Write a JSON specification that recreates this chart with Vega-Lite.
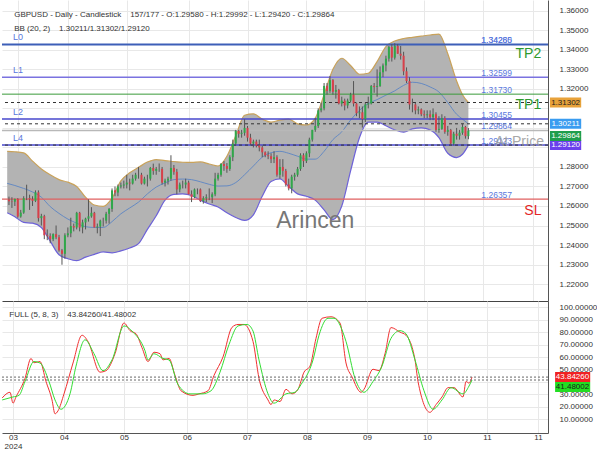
{
"$schema": "https://vega.github.io/schema/vega-lite/v6.json",
"padding": 0,
"autosize": {"type": "pad"},
"background": "#ffffff",
"spacing": 0,
"bounds": "flush",
"config": {
  "view": {"stroke": null},
  "font": "Liberation Sans",
  "axis": {"labelFont": "Liberation Sans", "labelFontSize": 8, "labelColor": "#333333", "ticks": false, "tickSize": 0, "gridColor": "#e8e8e8", "domainColor": "#555555", "labelOverlap": false, "labelFlush": false, "labelBound": false}
},
"datasets": {
"candles": [
{"i":0,"o":1.2633,"h":1.2648,"l":1.2605,"c":1.2624},
{"i":1,"o":1.2624,"h":1.2645,"l":1.2590,"c":1.2622},
{"i":2,"o":1.2622,"h":1.2638,"l":1.2600,"c":1.2636},
{"i":3,"o":1.2636,"h":1.2640,"l":1.2540,"c":1.2546},
{"i":4,"o":1.2546,"h":1.2580,"l":1.2540,"c":1.2566},
{"i":5,"o":1.2566,"h":1.2650,"l":1.2560,"c":1.2640},
{"i":6,"o":1.2640,"h":1.2709,"l":1.2630,"c":1.2640},
{"i":7,"o":1.2640,"h":1.2658,"l":1.2580,"c":1.2635},
{"i":8,"o":1.2635,"h":1.2650,"l":1.2600,"c":1.2626},
{"i":9,"o":1.2626,"h":1.2680,"l":1.2620,"c":1.2670},
{"i":10,"o":1.2670,"h":1.2680,"l":1.2520,"c":1.2538},
{"i":11,"o":1.2538,"h":1.2560,"l":1.2500,"c":1.2548},
{"i":12,"o":1.2548,"h":1.2555,"l":1.2430,"c":1.2450},
{"i":13,"o":1.2450,"h":1.2480,"l":1.2425,"c":1.2446},
{"i":14,"o":1.2446,"h":1.2460,"l":1.2409,"c":1.2430},
{"i":15,"o":1.2430,"h":1.2460,"l":1.2420,"c":1.2456},
{"i":16,"o":1.2456,"h":1.2500,"l":1.2430,"c":1.2440},
{"i":17,"o":1.2440,"h":1.2452,"l":1.2366,"c":1.2373},
{"i":18,"o":1.2373,"h":1.2380,"l":1.2299,"c":1.2355},
{"i":19,"o":1.2355,"h":1.2460,"l":1.2330,"c":1.2450},
{"i":20,"o":1.2450,"h":1.2490,"l":1.2440,"c":1.2460},
{"i":21,"o":1.2460,"h":1.2540,"l":1.2440,"c":1.2497},
{"i":22,"o":1.2497,"h":1.2510,"l":1.2470,"c":1.2490},
{"i":23,"o":1.2490,"h":1.2570,"l":1.2480,"c":1.2565},
{"i":24,"o":1.2565,"h":1.2570,"l":1.2470,"c":1.2490},
{"i":25,"o":1.2490,"h":1.2530,"l":1.2460,"c":1.2516},
{"i":26,"o":1.2516,"h":1.2540,"l":1.2480,"c":1.2535},
{"i":27,"o":1.2535,"h":1.2634,"l":1.2520,"c":1.2547},
{"i":28,"o":1.2547,"h":1.2594,"l":1.2540,"c":1.2565},
{"i":29,"o":1.2565,"h":1.2570,"l":1.2490,"c":1.2490},
{"i":30,"o":1.2490,"h":1.2510,"l":1.2460,"c":1.2495},
{"i":31,"o":1.2495,"h":1.2530,"l":1.2446,"c":1.2525},
{"i":32,"o":1.2525,"h":1.2540,"l":1.2495,"c":1.2525},
{"i":33,"o":1.2525,"h":1.2570,"l":1.2510,"c":1.2560},
{"i":34,"o":1.2560,"h":1.2590,"l":1.2510,"c":1.2585},
{"i":35,"o":1.2585,"h":1.2690,"l":1.2570,"c":1.2680},
{"i":36,"o":1.2680,"h":1.2700,"l":1.2650,"c":1.2669},
{"i":37,"o":1.2669,"h":1.2710,"l":1.2650,"c":1.2700},
{"i":38,"o":1.2700,"h":1.2720,"l":1.2690,"c":1.2705},
{"i":39,"o":1.2705,"h":1.2730,"l":1.2690,"c":1.2710},
{"i":40,"o":1.2710,"h":1.2760,"l":1.2690,"c":1.2720},
{"i":41,"o":1.2720,"h":1.2740,"l":1.2680,"c":1.2715},
{"i":42,"o":1.2715,"h":1.2760,"l":1.2710,"c":1.2740},
{"i":43,"o":1.2740,"h":1.2770,"l":1.2730,"c":1.2760},
{"i":44,"o":1.2760,"h":1.2800,"l":1.2740,"c":1.2760},
{"i":45,"o":1.2760,"h":1.2770,"l":1.2710,"c":1.2715},
{"i":46,"o":1.2715,"h":1.2750,"l":1.2710,"c":1.2740},
{"i":47,"o":1.2740,"h":1.2760,"l":1.2700,"c":1.2740},
{"i":48,"o":1.2740,"h":1.2800,"l":1.2730,"c":1.2795},
{"i":49,"o":1.2795,"h":1.2817,"l":1.2760,"c":1.2780},
{"i":50,"o":1.2780,"h":1.2800,"l":1.2760,"c":1.2790},
{"i":51,"o":1.2790,"h":1.2818,"l":1.2775,"c":1.2790},
{"i":52,"o":1.2790,"h":1.2800,"l":1.2710,"c":1.2720},
{"i":53,"o":1.2720,"h":1.2740,"l":1.2700,"c":1.2730},
{"i":54,"o":1.2730,"h":1.2750,"l":1.2710,"c":1.2740},
{"i":55,"o":1.2740,"h":1.2860,"l":1.2730,"c":1.2795},
{"i":56,"o":1.2795,"h":1.2810,"l":1.2760,"c":1.2775},
{"i":57,"o":1.2775,"h":1.2790,"l":1.2660,"c":1.2685},
{"i":58,"o":1.2685,"h":1.2720,"l":1.2670,"c":1.2710},
{"i":59,"o":1.2710,"h":1.2730,"l":1.2690,"c":1.2710},
{"i":60,"o":1.2710,"h":1.2740,"l":1.2690,"c":1.2720},
{"i":61,"o":1.2720,"h":1.2730,"l":1.2660,"c":1.2660},
{"i":62,"o":1.2660,"h":1.2680,"l":1.2620,"c":1.2645},
{"i":63,"o":1.2645,"h":1.2690,"l":1.2640,"c":1.2685},
{"i":64,"o":1.2685,"h":1.2690,"l":1.2660,"c":1.2685},
{"i":65,"o":1.2685,"h":1.2690,"l":1.2620,"c":1.2625},
{"i":66,"o":1.2625,"h":1.2650,"l":1.2612,"c":1.2640},
{"i":67,"o":1.2640,"h":1.2660,"l":1.2620,"c":1.2645},
{"i":68,"o":1.2645,"h":1.2690,"l":1.2630,"c":1.2645},
{"i":69,"o":1.2645,"h":1.2670,"l":1.2615,"c":1.2660},
{"i":70,"o":1.2660,"h":1.2770,"l":1.2650,"c":1.2740},
{"i":71,"o":1.2740,"h":1.2770,"l":1.2730,"c":1.2760},
{"i":72,"o":1.2760,"h":1.2820,"l":1.2750,"c":1.2815},
{"i":73,"o":1.2815,"h":1.2830,"l":1.2780,"c":1.2805},
{"i":74,"o":1.2805,"h":1.2820,"l":1.2770,"c":1.2790},
{"i":75,"o":1.2790,"h":1.2860,"l":1.2780,"c":1.2850},
{"i":76,"o":1.2850,"h":1.2940,"l":1.2830,"c":1.2920},
{"i":77,"o":1.2920,"h":1.2990,"l":1.2910,"c":1.2985},
{"i":78,"o":1.2985,"h":1.2990,"l":1.2950,"c":1.2970},
{"i":79,"o":1.2970,"h":1.2990,"l":1.2950,"c":1.2975},
{"i":80,"o":1.2975,"h":1.3044,"l":1.2960,"c":1.3000},
{"i":81,"o":1.3000,"h":1.3010,"l":1.2930,"c":1.2950},
{"i":82,"o":1.2950,"h":1.2970,"l":1.2910,"c":1.2920},
{"i":83,"o":1.2920,"h":1.2940,"l":1.2900,"c":1.2930},
{"i":84,"o":1.2930,"h":1.2940,"l":1.2900,"c":1.2910},
{"i":85,"o":1.2910,"h":1.2940,"l":1.2880,"c":1.2900},
{"i":86,"o":1.2900,"h":1.2910,"l":1.2850,"c":1.2875},
{"i":87,"o":1.2875,"h":1.2880,"l":1.2850,"c":1.2860},
{"i":88,"o":1.2860,"h":1.2880,"l":1.2840,"c":1.2855},
{"i":89,"o":1.2855,"h":1.2870,"l":1.2820,"c":1.2840},
{"i":90,"o":1.2840,"h":1.2880,"l":1.2820,"c":1.2850},
{"i":91,"o":1.2850,"h":1.2860,"l":1.2750,"c":1.2760},
{"i":92,"o":1.2760,"h":1.2840,"l":1.2740,"c":1.2800},
{"i":93,"o":1.2800,"h":1.2840,"l":1.2750,"c":1.2780},
{"i":94,"o":1.2780,"h":1.2790,"l":1.2700,"c":1.2710},
{"i":95,"o":1.2710,"h":1.2740,"l":1.2680,"c":1.2690},
{"i":96,"o":1.2690,"h":1.2760,"l":1.2665,"c":1.2750},
{"i":97,"o":1.2750,"h":1.2770,"l":1.2730,"c":1.2760},
{"i":98,"o":1.2760,"h":1.2800,"l":1.2750,"c":1.2790},
{"i":99,"o":1.2790,"h":1.2870,"l":1.2780,"c":1.2860},
{"i":100,"o":1.2860,"h":1.2870,"l":1.2800,"c":1.2830},
{"i":101,"o":1.2830,"h":1.2880,"l":1.2820,"c":1.2870},
{"i":102,"o":1.2870,"h":1.2950,"l":1.2850,"c":1.2940},
{"i":103,"o":1.2940,"h":1.2990,"l":1.2930,"c":1.2990},
{"i":104,"o":1.2990,"h":1.3050,"l":1.2980,"c":1.3010},
{"i":105,"o":1.3010,"h":1.3100,"l":1.3000,"c":1.3090},
{"i":106,"o":1.3090,"h":1.3130,"l":1.3080,"c":1.3100},
{"i":107,"o":1.3100,"h":1.3230,"l":1.3090,"c":1.3215},
{"i":108,"o":1.3215,"h":1.3230,"l":1.3170,"c":1.3190},
{"i":109,"o":1.3190,"h":1.3266,"l":1.3180,"c":1.3245},
{"i":110,"o":1.3245,"h":1.3250,"l":1.3170,"c":1.3185},
{"i":111,"o":1.3185,"h":1.3220,"l":1.3150,"c":1.3195},
{"i":112,"o":1.3195,"h":1.3200,"l":1.3120,"c":1.3125},
{"i":113,"o":1.3125,"h":1.3160,"l":1.3110,"c":1.3140},
{"i":114,"o":1.3140,"h":1.3150,"l":1.3090,"c":1.3115},
{"i":115,"o":1.3115,"h":1.3150,"l":1.3100,"c":1.3140},
{"i":116,"o":1.3140,"h":1.3180,"l":1.3130,"c":1.3170},
{"i":117,"o":1.3170,"h":1.3240,"l":1.3110,"c":1.3125},
{"i":118,"o":1.3125,"h":1.3130,"l":1.3060,"c":1.3075},
{"i":119,"o":1.3075,"h":1.3110,"l":1.3050,"c":1.3080},
{"i":120,"o":1.3080,"h":1.3110,"l":1.3002,"c":1.3045},
{"i":121,"o":1.3045,"h":1.3130,"l":1.3030,"c":1.3120},
{"i":122,"o":1.3120,"h":1.3160,"l":1.3100,"c":1.3125},
{"i":123,"o":1.3125,"h":1.3220,"l":1.3120,"c":1.3215},
{"i":124,"o":1.3215,"h":1.3230,"l":1.3180,"c":1.3210},
{"i":125,"o":1.3210,"h":1.3300,"l":1.3160,"c":1.3215},
{"i":126,"o":1.3215,"h":1.3315,"l":1.3210,"c":1.3285},
{"i":127,"o":1.3285,"h":1.3330,"l":1.3260,"c":1.3320},
{"i":128,"o":1.3320,"h":1.3370,"l":1.3290,"c":1.3355},
{"i":129,"o":1.3355,"h":1.3420,"l":1.3340,"c":1.3415},
{"i":130,"o":1.3415,"h":1.3430,"l":1.3340,"c":1.3360},
{"i":131,"o":1.3360,"h":1.3434,"l":1.3350,"c":1.3420},
{"i":132,"o":1.3420,"h":1.3430,"l":1.3380,"c":1.3380},
{"i":133,"o":1.3380,"h":1.3420,"l":1.3350,"c":1.3370},
{"i":134,"o":1.3370,"h":1.3390,"l":1.3270,"c":1.3290},
{"i":135,"o":1.3290,"h":1.3310,"l":1.3230,"c":1.3240},
{"i":136,"o":1.3240,"h":1.3260,"l":1.3094,"c":1.3120},
{"i":137,"o":1.3120,"h":1.3150,"l":1.3080,"c":1.3120},
{"i":138,"o":1.3120,"h":1.3130,"l":1.3070,"c":1.3090},
{"i":139,"o":1.3090,"h":1.3110,"l":1.3070,"c":1.3095},
{"i":140,"o":1.3095,"h":1.3100,"l":1.3060,"c":1.3070},
{"i":141,"o":1.3070,"h":1.3090,"l":1.3050,"c":1.3065},
{"i":142,"o":1.3065,"h":1.3090,"l":1.3050,"c":1.3070},
{"i":143,"o":1.3070,"h":1.3090,"l":1.3040,"c":1.3055},
{"i":144,"o":1.3055,"h":1.3100,"l":1.3040,"c":1.3070},
{"i":145,"o":1.3070,"h":1.3080,"l":1.2980,"c":1.2990},
{"i":146,"o":1.2990,"h":1.3060,"l":1.2975,"c":1.2995},
{"i":147,"o":1.2995,"h":1.3070,"l":1.2990,"c":1.3050},
{"i":148,"o":1.3050,"h":1.3060,"l":1.2970,"c":1.2980},
{"i":149,"o":1.2980,"h":1.3010,"l":1.2960,"c":1.2990},
{"i":150,"o":1.2990,"h":1.2995,"l":1.2908,"c":1.2920},
{"i":151,"o":1.2920,"h":1.2980,"l":1.2910,"c":1.2970},
{"i":152,"o":1.2970,"h":1.3000,"l":1.2940,"c":1.2960},
{"i":153,"o":1.2960,"h":1.2990,"l":1.2940,"c":1.2975},
{"i":154,"o":1.2975,"h":1.3025,"l":1.2965,"c":1.3005},
{"i":155,"o":1.3005,"h":1.3010,"l":1.2945,"c":1.2958},
{"i":156,"o":1.29580,"h":1.29992,"l":1.29420,"c":1.29864}
],
"bands": [
{"i":-0.6,"up":1.2880,"mid":1.2716,"lo":1.2565},
{"i":2,"up":1.2878,"mid":1.2705,"lo":1.2545},
{"i":5,"up":1.2872,"mid":1.2690,"lo":1.2516},
{"i":8,"up":1.2830,"mid":1.2672,"lo":1.2512},
{"i":11,"up":1.2790,"mid":1.2645,"lo":1.2490},
{"i":14,"up":1.2760,"mid":1.2597,"lo":1.2420},
{"i":17,"up":1.2735,"mid":1.2562,"lo":1.2350},
{"i":20,"up":1.2722,"mid":1.2533,"lo":1.2330},
{"i":23,"up":1.2700,"mid":1.2512,"lo":1.2320},
{"i":26,"up":1.2645,"mid":1.2494,"lo":1.2338},
{"i":29,"up":1.2605,"mid":1.2490,"lo":1.2352},
{"i":32,"up":1.2598,"mid":1.2490,"lo":1.2365},
{"i":35,"up":1.2640,"mid":1.2520,"lo":1.2360},
{"i":38,"up":1.2729,"mid":1.2560,"lo":1.2370},
{"i":41,"up":1.2770,"mid":1.2590,"lo":1.2385},
{"i":44,"up":1.2798,"mid":1.2620,"lo":1.2407},
{"i":47,"up":1.2825,"mid":1.2662,"lo":1.2480},
{"i":50,"up":1.2838,"mid":1.2697,"lo":1.2550},
{"i":53,"up":1.2832,"mid":1.2718,"lo":1.2630},
{"i":56,"up":1.2828,"mid":1.2735,"lo":1.2660},
{"i":59,"up":1.2824,"mid":1.2738,"lo":1.2662},
{"i":62,"up":1.2823,"mid":1.2735,"lo":1.2654},
{"i":65,"up":1.2826,"mid":1.2724,"lo":1.2630},
{"i":68,"up":1.2815,"mid":1.2711,"lo":1.2610},
{"i":71,"up":1.2805,"mid":1.2702,"lo":1.2595},
{"i":74,"up":1.2855,"mid":1.2703,"lo":1.2565},
{"i":77,"up":1.2960,"mid":1.2720,"lo":1.2541},
{"i":80,"up":1.3065,"mid":1.2760,"lo":1.2526},
{"i":83,"up":1.3072,"mid":1.2805,"lo":1.2555},
{"i":86,"up":1.3045,"mid":1.2850,"lo":1.2650},
{"i":89,"up":1.3030,"mid":1.2873,"lo":1.2726},
{"i":92,"up":1.3040,"mid":1.2880,"lo":1.2739},
{"i":95,"up":1.3045,"mid":1.2870,"lo":1.2700},
{"i":98,"up":1.3021,"mid":1.2855,"lo":1.2662},
{"i":101,"up":1.3015,"mid":1.2840,"lo":1.2650},
{"i":104,"up":1.3050,"mid":1.2840,"lo":1.2630},
{"i":107,"up":1.3170,"mid":1.2880,"lo":1.2580},
{"i":110,"up":1.3300,"mid":1.2940,"lo":1.2530},
{"i":113,"up":1.3357,"mid":1.2980,"lo":1.2600},
{"i":116,"up":1.3320,"mid":1.3040,"lo":1.2780},
{"i":119,"up":1.3275,"mid":1.3090,"lo":1.2950},
{"i":122,"up":1.3280,"mid":1.3125,"lo":1.3030},
{"i":125,"up":1.3340,"mid":1.3145,"lo":1.3030},
{"i":128,"up":1.3417,"mid":1.3168,"lo":1.3011},
{"i":131,"up":1.3445,"mid":1.3190,"lo":1.2990},
{"i":134,"up":1.3458,"mid":1.3218,"lo":1.2978},
{"i":137,"up":1.3464,"mid":1.3234,"lo":1.2995},
{"i":140,"up":1.3470,"mid":1.3228,"lo":1.3000},
{"i":143,"up":1.3476,"mid":1.3210,"lo":1.2990},
{"i":146,"up":1.3481,"mid":1.3184,"lo":1.2950},
{"i":149,"up":1.3380,"mid":1.3130,"lo":1.2870},
{"i":152,"up":1.3240,"mid":1.3070,"lo":1.2848},
{"i":154,"up":1.3170,"mid":1.3045,"lo":1.2865},
{"i":156,"up":1.31302,"mid":1.30211,"lo":1.29120}
],
"levels": [
{"name":"L0","v":1.34285},
{"name":"TP2","v":1.34260},
{"name":"L1","v":1.32599},
{"name":"G","v":1.31730},
{"name":"TP1","v":1.31302},
{"name":"L2","v":1.30455},
{"name":"BBmid","v":1.30211},
{"name":"Price","v":1.29864},
{"name":"L4","v":1.29123},
{"name":"BBlow","v":1.29120},
{"name":"SL","v":1.26357}
],
"stoch": [
{"i":-0.6,"s":"K","v":27},{"i":2,"s":"K","v":31.6},{"i":3,"s":"K","v":22.8},{"i":4,"s":"K","v":27.8},{"i":7,"s":"K","v":42.8},{"i":9,"s":"K","v":58.9},{"i":10,"s":"K","v":55.4},{"i":12,"s":"K","v":56.4},{"i":14,"s":"K","v":40.3},{"i":16,"s":"K","v":25.4},{"i":17,"s":"K","v":14.2},{"i":18,"s":"K","v":16.6},{"i":20,"s":"K","v":30.3},{"i":23,"s":"K","v":55.2},{"i":26,"s":"K","v":77.6},{"i":28,"s":"K","v":72.6},{"i":32,"s":"K","v":47.8},{"i":34,"s":"K","v":49},{"i":37,"s":"K","v":62.7},{"i":40,"s":"K","v":87.5},{"i":42,"s":"K","v":81.3},{"i":44,"s":"K","v":78.8},{"i":46,"s":"K","v":67.6},{"i":48,"s":"K","v":56.4},{"i":50,"s":"K","v":63.9},{"i":52,"s":"K","v":62.7},{"i":53,"s":"K","v":57.7},{"i":55,"s":"K","v":58.9},{"i":57,"s":"K","v":45.2},{"i":59,"s":"K","v":32.8},{"i":63,"s":"K","v":29.1},{"i":65,"s":"K","v":30.3},{"i":68,"s":"K","v":32.8},{"i":70,"s":"K","v":45.2},{"i":73,"s":"K","v":60.1},{"i":76,"s":"K","v":84},{"i":78,"s":"K","v":86.3},{"i":80,"s":"K","v":86.3},{"i":83,"s":"K","v":72.6},{"i":85,"s":"K","v":42.8},{"i":88,"s":"K","v":25.4},{"i":89,"s":"K","v":21.6},{"i":90,"s":"K","v":25.4},{"i":92,"s":"K","v":24.1},{"i":94,"s":"K","v":34},{"i":96,"s":"K","v":30.3},{"i":98,"s":"K","v":34},{"i":100,"s":"K","v":47.8},{"i":102,"s":"K","v":52.7},{"i":104,"s":"K","v":75.1},{"i":106,"s":"K","v":91.3},{"i":109,"s":"K","v":92.5},{"i":112,"s":"K","v":87.5},{"i":114,"s":"K","v":55.2},{"i":116,"s":"K","v":44},{"i":119,"s":"K","v":31.6},{"i":120,"s":"K","v":34},{"i":123,"s":"K","v":50.2},{"i":125,"s":"K","v":49},{"i":127,"s":"K","v":62.7},{"i":129,"s":"K","v":83.8},{"i":132,"s":"K","v":80.1},{"i":134,"s":"K","v":77.6},{"i":137,"s":"K","v":57.7},{"i":138,"s":"K","v":40.3},{"i":142,"s":"K","v":15.4},{"i":144,"s":"K","v":21.6},{"i":146,"s":"K","v":27.8},{"i":148,"s":"K","v":35.3},{"i":150,"s":"K","v":35.3},{"i":153,"s":"K","v":27.8},{"i":154,"s":"K","v":40.3},{"i":155,"s":"K","v":39},{"i":156,"s":"K","v":43.8426},
{"i":-0.6,"s":"D","v":25.4},{"i":3,"s":"D","v":27.8},{"i":5,"s":"D","v":29.1},{"i":7,"s":"D","v":40.3},{"i":10,"s":"D","v":56.4},{"i":12,"s":"D","v":55.2},{"i":15,"s":"D","v":40.3},{"i":17,"s":"D","v":25.4},{"i":19,"s":"D","v":17.9},{"i":22,"s":"D","v":30.3},{"i":24,"s":"D","v":52.7},{"i":27,"s":"D","v":73.9},{"i":30,"s":"D","v":62.7},{"i":33,"s":"D","v":49},{"i":36,"s":"D","v":57.7},{"i":40,"s":"D","v":85.1},{"i":43,"s":"D","v":80.1},{"i":47,"s":"D","v":65.1},{"i":48,"s":"D","v":57.7},{"i":50,"s":"D","v":62.7},{"i":53,"s":"D","v":58.9},{"i":55,"s":"D","v":57.7},{"i":58,"s":"D","v":37.8},{"i":62,"s":"D","v":30.3},{"i":66,"s":"D","v":30.3},{"i":69,"s":"D","v":32.8},{"i":72,"s":"D","v":47.8},{"i":75,"s":"D","v":70.1},{"i":78,"s":"D","v":85.1},{"i":81,"s":"D","v":86.3},{"i":83,"s":"D","v":81},{"i":85,"s":"D","v":57.7},{"i":88,"s":"D","v":30.3},{"i":90,"s":"D","v":22.8},{"i":94,"s":"D","v":30.3},{"i":97,"s":"D","v":31.6},{"i":99,"s":"D","v":37.8},{"i":103,"s":"D","v":57.7},{"i":105,"s":"D","v":77.6},{"i":108,"s":"D","v":91.3},{"i":110,"s":"D","v":91.3},{"i":114,"s":"D","v":72.6},{"i":117,"s":"D","v":42.8},{"i":120,"s":"D","v":31.6},{"i":123,"s":"D","v":40.3},{"i":126,"s":"D","v":52.7},{"i":129,"s":"D","v":75.1},{"i":132,"s":"D","v":81.3},{"i":134,"s":"D","v":78.8},{"i":137,"s":"D","v":57.7},{"i":140,"s":"D","v":32.8},{"i":143,"s":"D","v":17.9},{"i":146,"s":"D","v":25.4},{"i":149,"s":"D","v":35.3},{"i":153,"s":"D","v":30.3},{"i":155,"s":"D","v":36.6},{"i":156,"s":"D","v":41.48002}
],
"stochNow": [{"s":"K","v":43.8426},{"s":"D","v":41.48002}]
},
"vconcat": [
{
"width": 546,
"height": 301,
"resolve": {"axis": {"x": "independent", "y": "independent"}},
"layer": [
{"data": {"name": "bands"},
 "mark": {"type": "area", "color": "#b3b3b3", "interpolate": "monotone"},
 "encoding": {
  "x": {"field": "i", "type": "quantitative", "scale": {"domain": [-0.667, 181.333], "nice": false, "zero": false}, "axis": {"orient": "bottom", "values": [3,20,40,61,81,101,121,141,161,178], "labels": false, "grid": true, "domain": true, "domainColor": "#444444", "title": null}},
  "y": {"field": "up", "type": "quantitative", "scale": {"domain": [1.21389, 1.36297], "nice": false, "zero": false}, "axis": {"orient": "right", "values": [1.22,1.23,1.24,1.25,1.26,1.27,1.28,1.29,1.3,1.31,1.32,1.33,1.34,1.35,1.36], "format": ".5f", "labelExpr": "(datum.value > 1.285 && datum.value < 1.315) ? '' : datum.label", "grid": true, "domain": true, "labelPadding": 11, "title": null}},
  "y2": {"field": "lo"}
 }},
{"data": {"name": "bands"},
 "mark": {"type": "line", "color": "#c9a25a", "strokeWidth": 1.2, "interpolate": "monotone"},
 "encoding": {
  "x": {"field": "i", "type": "quantitative", "scale": {"domain": [-0.667, 181.333], "nice": false, "zero": false}, "axis": null},
  "y": {"field": "up", "type": "quantitative", "scale": {"domain": [1.21389, 1.36297], "nice": false, "zero": false}, "axis": null}
 }},
{"data": {"name": "bands"},
 "mark": {"type": "line", "color": "#6d62d8", "strokeWidth": 1.2, "interpolate": "monotone"},
 "encoding": {
  "x": {"field": "i", "type": "quantitative", "scale": {"domain": [-0.667, 181.333], "nice": false, "zero": false}, "axis": null},
  "y": {"field": "lo", "type": "quantitative", "scale": {"domain": [1.21389, 1.36297], "nice": false, "zero": false}, "axis": null}
 }},
{"data": {"name": "bands"},
 "mark": {"type": "line", "color": "#5b84c4", "strokeWidth": 0.9, "interpolate": "monotone"},
 "encoding": {
  "x": {"field": "i", "type": "quantitative", "scale": {"domain": [-0.667, 181.333], "nice": false, "zero": false}, "axis": null},
  "y": {"field": "mid", "type": "quantitative", "scale": {"domain": [1.21389, 1.36297], "nice": false, "zero": false}, "axis": null}
 }},
{"data": {"name": "levels"}, "transform": [{"filter": {"field": "name", "oneOf": ["L0","TP2"]}}],
 "mark": {"type": "rule", "color": "#3d5fb8", "strokeWidth": 1.5},
 "encoding": {"y": {"field": "v", "type": "quantitative", "scale": {"domain": [1.21389, 1.36297], "nice": false, "zero": false}, "axis": null}}},
{"data": {"name": "levels"}, "transform": [{"filter": {"field": "name", "oneOf": ["L1"]}}],
 "mark": {"type": "rule", "color": "#7a72e0", "strokeWidth": 1.5},
 "encoding": {"y": {"field": "v", "type": "quantitative", "scale": {"domain": [1.21389, 1.36297], "nice": false, "zero": false}, "axis": null}}},
{"data": {"name": "levels"}, "transform": [{"filter": {"field": "name", "oneOf": ["G"]}}],
 "mark": {"type": "rule", "color": "#3a9a3a", "strokeWidth": 1},
 "encoding": {"y": {"field": "v", "type": "quantitative", "scale": {"domain": [1.21389, 1.36297], "nice": false, "zero": false}, "axis": null}}},
{"data": {"name": "levels"}, "transform": [{"filter": {"field": "name", "oneOf": ["Price"]}}],
 "mark": {"type": "rule", "color": "#b8b8b8", "strokeWidth": 1.5},
 "encoding": {"y": {"field": "v", "type": "quantitative", "scale": {"domain": [1.21389, 1.36297], "nice": false, "zero": false}, "axis": null}}},
{"data": {"name": "levels"}, "transform": [{"filter": {"field": "name", "oneOf": ["L2","L4"]}}],
 "mark": {"type": "rule", "color": "#4747cc", "strokeWidth": 1.5},
 "encoding": {"y": {"field": "v", "type": "quantitative", "scale": {"domain": [1.21389, 1.36297], "nice": false, "zero": false}, "axis": null}}},
{"data": {"name": "levels"}, "transform": [{"filter": {"field": "name", "oneOf": ["TP1","BBmid","BBlow"]}}],
 "mark": {"type": "rule", "color": "#333333", "strokeWidth": 1, "strokeDash": [3,3]},
 "encoding": {"y": {"field": "v", "type": "quantitative", "scale": {"domain": [1.21389, 1.36297], "nice": false, "zero": false}, "axis": null}}},
{"data": {"name": "levels"}, "transform": [{"filter": {"field": "name", "oneOf": ["SL"]}}],
 "mark": {"type": "rule", "color": "#e06060", "strokeWidth": 1.2},
 "encoding": {"y": {"field": "v", "type": "quantitative", "scale": {"domain": [1.21389, 1.36297], "nice": false, "zero": false}, "axis": null}}},
{"data": {"name": "candles"},
 "mark": {"type": "rule", "color": "#555555", "strokeWidth": 1},
 "encoding": {
  "x": {"field": "i", "type": "quantitative", "scale": {"domain": [-0.667, 181.333], "nice": false, "zero": false}, "axis": null},
  "y": {"field": "l", "type": "quantitative", "scale": {"domain": [1.21389, 1.36297], "nice": false, "zero": false}, "axis": null},
  "y2": {"field": "h"}
 }},
{"data": {"name": "candles"},
 "mark": {"type": "bar", "width": 2},
 "encoding": {
  "x": {"field": "i", "type": "quantitative", "scale": {"domain": [-0.667, 181.333], "nice": false, "zero": false}, "axis": null},
  "y": {"field": "o", "type": "quantitative", "scale": {"domain": [1.21389, 1.36297], "nice": false, "zero": false}, "axis": null},
  "y2": {"field": "c"},
  "color": {"condition": {"test": "datum.c >= datum.o", "value": "#2fa84a"}, "value": "#d8404a"}
 }},
{"data": {"name": "levels"}, "transform": [{"filter": {"field": "name", "oneOf": ["L0","L1","L2","L4"]}}],
 "mark": {"type": "text", "align": "left", "baseline": "middle", "dy": -7, "fontSize": 9, "color": "#5a78dd"},
 "encoding": {
  "x": {"datum": 1.33, "type": "quantitative", "scale": {"domain": [-0.667, 181.333], "nice": false, "zero": false}, "axis": null},
  "y": {"field": "v", "type": "quantitative", "scale": {"domain": [1.21389, 1.36297], "nice": false, "zero": false}, "axis": null},
  "text": {"field": "name"}
 }},
{"data": {"name": "levels"}, "transform": [{"filter": {"field": "name", "oneOf": ["L0","TP2","L1","G","L2","Price","L4","SL"]}}],
 "mark": {"type": "text", "align": "left", "baseline": "middle", "dy": -4.5, "fontSize": 8.5, "color": "#5a78dd"},
 "encoding": {
  "x": {"datum": 160.4, "type": "quantitative", "scale": {"domain": [-0.667, 181.333], "nice": false, "zero": false}, "axis": null},
  "y": {"field": "v", "type": "quantitative", "scale": {"domain": [1.21389, 1.36297], "nice": false, "zero": false}, "axis": null},
  "text": {"field": "v", "type": "quantitative", "format": ".5f"}
 }},
{"data": {"name": "levels"}, "transform": [{"filter": {"field": "name", "oneOf": ["TP2"]}}],
 "mark": {"type": "text", "align": "left", "baseline": "middle", "dy": 9, "fontSize": 14, "color": "#2e9a2e"},
 "encoding": {
  "x": {"datum": 172, "type": "quantitative", "scale": {"domain": [-0.667, 181.333], "nice": false, "zero": false}, "axis": null},
  "y": {"field": "v", "type": "quantitative", "scale": {"domain": [1.21389, 1.36297], "nice": false, "zero": false}, "axis": null},
  "text": {"field": "name"}
 }},
{"data": {"name": "levels"}, "transform": [{"filter": {"field": "name", "oneOf": ["TP1"]}}],
 "mark": {"type": "text", "align": "left", "baseline": "middle", "dy": 2, "fontSize": 14, "color": "#2e9a2e"},
 "encoding": {
  "x": {"datum": 172, "type": "quantitative", "scale": {"domain": [-0.667, 181.333], "nice": false, "zero": false}, "axis": null},
  "y": {"field": "v", "type": "quantitative", "scale": {"domain": [1.21389, 1.36297], "nice": false, "zero": false}, "axis": null},
  "text": {"field": "name"}
 }},
{"data": {"name": "levels"}, "transform": [{"filter": {"field": "name", "oneOf": ["SL"]}}],
 "mark": {"type": "text", "align": "left", "baseline": "middle", "dy": 12, "fontSize": 14, "color": "#e32626"},
 "encoding": {
  "x": {"datum": 175, "type": "quantitative", "scale": {"domain": [-0.667, 181.333], "nice": false, "zero": false}, "axis": null},
  "y": {"field": "v", "type": "quantitative", "scale": {"domain": [1.21389, 1.36297], "nice": false, "zero": false}, "axis": null},
  "text": {"field": "name"}
 }},
{"data": {"values": [{}]},
 "mark": {"type": "text", "align": "left", "baseline": "middle", "fontSize": 14, "color": "#999999", "opacity": 0.85},
 "encoding": {
  "x": {"datum": 165, "type": "quantitative", "scale": {"domain": [-0.667, 181.333], "nice": false, "zero": false}, "axis": null},
  "y": {"datum": 1.2930, "type": "quantitative", "scale": {"domain": [1.21389, 1.36297], "nice": false, "zero": false}, "axis": null},
  "text": {"value": "At Price"}
 }},
{"data": {"values": [{}]},
 "mark": {"type": "text", "align": "center", "baseline": "middle", "fontSize": 23, "color": "#777777"},
 "encoding": {
  "x": {"datum": 104, "type": "quantitative", "scale": {"domain": [-0.667, 181.333], "nice": false, "zero": false}, "axis": null},
  "y": {"datum": 1.2521, "type": "quantitative", "scale": {"domain": [1.21389, 1.36297], "nice": false, "zero": false}, "axis": null},
  "text": {"value": "Arincen"}
 }},
{"data": {"values": [{}]},
 "mark": {"type": "text", "align": "left", "baseline": "middle", "fontSize": 8, "color": "#333333"},
 "encoding": {
  "x": {"datum": 1.77, "type": "quantitative", "scale": {"domain": [-0.667, 181.333], "nice": false, "zero": false}, "axis": null},
  "y": {"datum": 1.35767, "type": "quantitative", "scale": {"domain": [1.21389, 1.36297], "nice": false, "zero": false}, "axis": null},
  "text": {"value": "GBPUSD - Daily - Candlestick\u00a0\u00a0\u00a0\u00a0157/177 - O:1.29580 - H:1.29992 - L:1.29420 - C:1.29864"}
 }},
{"data": {"values": [{}]},
 "mark": {"type": "text", "align": "left", "baseline": "middle", "fontSize": 8, "color": "#333333"},
 "encoding": {
  "x": {"datum": 1.77, "type": "quantitative", "scale": {"domain": [-0.667, 181.333], "nice": false, "zero": false}, "axis": null},
  "y": {"datum": 1.35059, "type": "quantitative", "scale": {"domain": [1.21389, 1.36297], "nice": false, "zero": false}, "axis": null},
  "text": {"value": "BB (20, 2)\u00a0\u00a0\u00a0\u00a01.30211/1.31302/1.29120"}
 }},
{"data": {"name": "levels"}, "transform": [{"filter": {"field": "name", "oneOf": ["TP1","BBmid","BBlow"]}}],
 "mark": {"type": "bar", "height": 10},
 "encoding": {
  "x": {"datum": 183.7, "type": "quantitative", "scale": {"domain": [-0.667, 181.333], "nice": false, "zero": false}, "axis": null},
  "x2": {"datum": 194.3},
  "y": {"field": "v", "type": "quantitative", "scale": {"domain": [1.21389, 1.36297], "nice": false, "zero": false}, "axis": null},
  "color": {"field": "name", "type": "nominal", "scale": {"domain": ["TP1","BBmid","BBlow"], "range": ["#e8a23a","#3a9cf0","#6a40ec"]}, "legend": null}
 }},
{"data": {"name": "levels"}, "transform": [{"filter": {"field": "name", "oneOf": ["TP1","BBmid","BBlow"]}}],
 "mark": {"type": "text", "align": "center", "baseline": "middle", "fontSize": 8},
 "encoding": {
  "x": {"datum": 189, "type": "quantitative", "scale": {"domain": [-0.667, 181.333], "nice": false, "zero": false}, "axis": null},
  "y": {"field": "v", "type": "quantitative", "scale": {"domain": [1.21389, 1.36297], "nice": false, "zero": false}, "axis": null},
  "text": {"field": "v", "type": "quantitative", "format": ".5f"},
  "color": {"condition": {"test": "datum.name == 'TP1'", "value": "#222222"}, "value": "#ffffff"}
 }},
{"data": {"name": "levels"}, "transform": [{"filter": {"field": "name", "oneOf": ["Price"]}}],
 "mark": {"type": "bar", "height": 10, "yOffset": 5.5, "color": "#1f9e4c"},
 "encoding": {
  "x": {"datum": 183.7, "type": "quantitative", "scale": {"domain": [-0.667, 181.333], "nice": false, "zero": false}, "axis": null},
  "x2": {"datum": 194.3},
  "y": {"field": "v", "type": "quantitative", "scale": {"domain": [1.21389, 1.36297], "nice": false, "zero": false}, "axis": null}
 }},
{"data": {"name": "levels"}, "transform": [{"filter": {"field": "name", "oneOf": ["Price"]}}],
 "mark": {"type": "text", "align": "center", "baseline": "middle", "fontSize": 8, "dy": 5.5, "color": "#ffffff"},
 "encoding": {
  "x": {"datum": 189, "type": "quantitative", "scale": {"domain": [-0.667, 181.333], "nice": false, "zero": false}, "axis": null},
  "y": {"field": "v", "type": "quantitative", "scale": {"domain": [1.21389, 1.36297], "nice": false, "zero": false}, "axis": null},
  "text": {"field": "v", "type": "quantitative", "format": ".5f"}
 }}
]
},
{
"width": 546,
"height": 132,
"resolve": {"axis": {"x": "independent", "y": "independent"}},
"layer": [
{"data": {"name": "stoch"}, "transform": [{"filter": "datum.s == 'K'"}],
 "mark": {"type": "line", "color": "#f03030", "strokeWidth": 1, "interpolate": "monotone"},
 "encoding": {
  "x": {"field": "i", "type": "quantitative", "scale": {"domain": [-0.667, 181.333], "nice": false, "zero": false}, "axis": {"orient": "bottom", "values": [3,20,40,61,81,101,121,141,161,178], "labelExpr": "datum.value == 3 ? ['03', '2024'] : datum.value == 20 ? '04' : datum.value == 40 ? '05' : datum.value == 61 ? '06' : datum.value == 81 ? '07' : datum.value == 101 ? '08' : datum.value == 121 ? '09' : datum.value == 141 ? '10' : '11'", "grid": true, "domain": true, "labelPadding": 0, "labelLineHeight": 9, "title": null}},
  "y": {"field": "v", "type": "quantitative", "scale": {"domain": [2.76, 101.2], "nice": false, "zero": false}, "axis": {"orient": "right", "values": [10,20,30,40,50,60,70,80,90,100], "format": ".5f", "labelExpr": "datum.value == 40 ? '' : datum.label", "grid": true, "domain": true, "labelPadding": 11, "title": null}}
 }},
{"data": {"name": "stoch"}, "transform": [{"filter": "datum.s == 'D'"}],
 "mark": {"type": "line", "color": "#33dd33", "strokeWidth": 1, "interpolate": "monotone"},
 "encoding": {
  "x": {"field": "i", "type": "quantitative", "scale": {"domain": [-0.667, 181.333], "nice": false, "zero": false}, "axis": null},
  "y": {"field": "v", "type": "quantitative", "scale": {"domain": [2.76, 101.2], "nice": false, "zero": false}, "axis": null}
 }},
{"data": {"name": "stochNow"},
 "mark": {"type": "rule", "color": "#666666", "strokeWidth": 1, "strokeDash": [2,2]},
 "encoding": {"y": {"field": "v", "type": "quantitative", "scale": {"domain": [2.76, 101.2], "nice": false, "zero": false}, "axis": null}}},
{"data": {"name": "stochNow"}, "transform": [{"filter": "datum.s == 'K'"}],
 "mark": {"type": "bar", "height": 10, "color": "#f02222"},
 "encoding": {
  "x": {"datum": 183.7, "type": "quantitative", "scale": {"domain": [-0.667, 181.333], "nice": false, "zero": false}, "axis": null},
  "x2": {"datum": 195.4},
  "y": {"field": "v", "type": "quantitative", "scale": {"domain": [2.76, 101.2], "nice": false, "zero": false}, "axis": null}
 }},
{"data": {"name": "stochNow"}, "transform": [{"filter": "datum.s == 'K'"}],
 "mark": {"type": "text", "align": "center", "baseline": "middle", "fontSize": 8, "color": "#ffffff"},
 "encoding": {
  "x": {"datum": 189.5, "type": "quantitative", "scale": {"domain": [-0.667, 181.333], "nice": false, "zero": false}, "axis": null},
  "y": {"field": "v", "type": "quantitative", "scale": {"domain": [2.76, 101.2], "nice": false, "zero": false}, "axis": null},
  "text": {"field": "v", "type": "quantitative", "format": ".5f"}
 }},
{"data": {"name": "stochNow"}, "transform": [{"filter": "datum.s == 'D'"}],
 "mark": {"type": "bar", "height": 10, "yOffset": 7, "color": "#22dd22"},
 "encoding": {
  "x": {"datum": 183.7, "type": "quantitative", "scale": {"domain": [-0.667, 181.333], "nice": false, "zero": false}, "axis": null},
  "x2": {"datum": 195.4},
  "y": {"field": "v", "type": "quantitative", "scale": {"domain": [2.76, 101.2], "nice": false, "zero": false}, "axis": null}
 }},
{"data": {"name": "stochNow"}, "transform": [{"filter": "datum.s == 'D'"}],
 "mark": {"type": "text", "align": "center", "baseline": "middle", "fontSize": 8, "dy": 7, "color": "#1a1a1a"},
 "encoding": {
  "x": {"datum": 189.5, "type": "quantitative", "scale": {"domain": [-0.667, 181.333], "nice": false, "zero": false}, "axis": null},
  "y": {"field": "v", "type": "quantitative", "scale": {"domain": [2.76, 101.2], "nice": false, "zero": false}, "axis": null},
  "text": {"field": "v", "type": "quantitative", "format": ".5f"}
 }},
{"data": {"values": [{}]},
 "mark": {"type": "text", "align": "left", "baseline": "middle", "fontSize": 8, "color": "#333333"},
 "encoding": {
  "x": {"datum": 1.77, "type": "quantitative", "scale": {"domain": [-0.667, 181.333], "nice": false, "zero": false}, "axis": null},
  "y": {"datum": 93.7, "type": "quantitative", "scale": {"domain": [2.76, 101.2], "nice": false, "zero": false}, "axis": null},
  "text": {"value": "FULL (5, 8, 3)\u00a0\u00a0\u00a0\u00a043.84260/41.48002"}
 }}
]
}
]
}
